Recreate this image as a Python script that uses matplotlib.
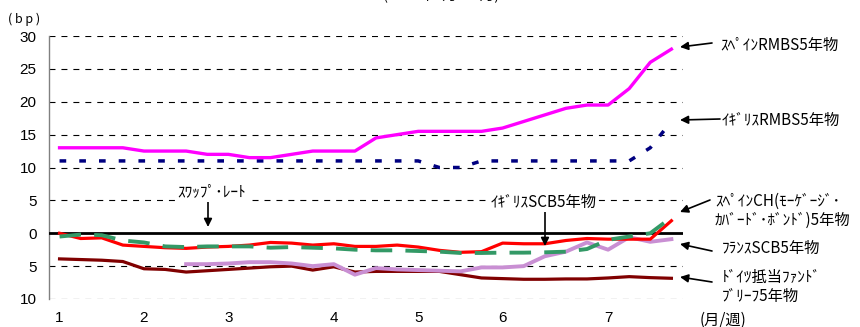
import numpy as np
import matplotlib
matplotlib.use("Agg")
import matplotlib.pyplot as plt

plt.rcParams["font.family"] = ["Noto Sans CJK JP", "DejaVu Sans"]
plt.rcParams["lines.scale_dashes"] = False

W, H = 860, 327
nan = np.nan

# weekly observations, Jan..Jul
weeks = np.arange(30)
month_pos = [0, 4, 8, 13, 17, 21, 26]
month_labels = ["1", "2", "3", "4", "5", "6", "7"]

spain_rmbs = [13, 13, 13, 13, 12.5, 12.5, 12.5, 12, 12, 11.5, 11.5, 12, 12.5, 12.5, 12.5,
              14.5, 15, 15.5, 15.5, 15.5, 15.5, 16, 17, 18, 19, 19.5, 19.5, 22, 26, 28]
uk_rmbs = [11, 11, 11, 11, 11, 11, 11, 11, 11, 11, 11, 11, 11, 11, 11,
           11, 11, 11, 10, 10, 11, 11, 11, 11, 11, 11, 11, 11, 13, 17]
uk_scb = [0, -0.8, -0.7, -1.8, -2.0, -2.2, -2.3, -2.1, -2.0, -1.8, -1.4, -1.5, -1.8, -1.6, -2.0,
          -2.0, -1.8, -2.1, -2.6, -2.9, -2.8, -1.5, -1.6, -1.6, -1.1, -0.8, -0.9, -0.9, -0.9, 1.9]
spain_ch = [-0.5, -0.2, -0.3, -1.1, -1.4, -2.0, -2.1, -2.0, -2.0, -2.0, -2.2, -2.1, -2.2, -2.3, -2.5,
            -2.6, -2.6, -2.7, -2.8, -3.0, -3.0, -2.95, -2.95, -2.9, -2.8, -2.4, -1.0, -0.5, 0, 2.4]
france_scb = [nan, nan, nan, nan, nan, nan, -4.7, -4.7, -4.6, -4.4, -4.4, -4.6, -5.0, -4.7, -6.3,
              -5.3, -5.5, -5.6, -5.7, -5.8, -5.2, -5.2, -5.0, -3.5, -2.8, -1.4, -2.5, -0.6, -1.3, -0.9]
german_pf = [-3.9, -4.0, -4.1, -4.3, -5.4, -5.5, -5.9, -5.7, -5.5, -5.3, -5.1, -5.0, -5.6, -5.1, -5.9,
             -5.8, -5.8, -5.8, -5.8, -6.3, -6.8, -6.9, -7.0, -7.0, -6.95, -6.95, -6.8, -6.6, -6.75, -6.85]

y_ticks = [-10, -5, 0, 5, 10, 15, 20, 25, 30]
y_labels = ["10", "5", "0", "5", "10", "15", "20", "25", "30"]


def fx(x):
    return x / W


def fy(y):
    return 1 - y / H


fig = plt.figure(figsize=(W / 100, H / 100), dpi=100)
ax = fig.add_axes([fx(49), fy(299), fx(683) - fx(49), fy(36) - fy(299)])

# grid lines every 5bp, solid zero line
for v in y_ticks:
    if v == 0:
        ax.axhline(0, color="black", lw=2.0, zorder=3)
    else:
        ax.axhline(v, color="black", lw=0.8, linestyle=(0, (4.3, 4.3)), zorder=1)

ax.plot(weeks, german_pf, color="#800000", lw=2.3, zorder=4)
ax.plot(weeks, france_scb, color="#c98fd3", lw=2.8, zorder=4)
ax.plot(weeks, uk_scb, color="#ff0000", lw=2.3, zorder=5)
ax.plot(weeks, spain_ch, color="#339966", lw=2.8, linestyle=(0, (15.5, 9.5)), zorder=6)
ax.plot(weeks, uk_rmbs, color="#000080", lw=2.5, linestyle=(0, (4.8, 9.4)),
        solid_capstyle="butt", dash_capstyle="butt", zorder=5)
ax.plot(weeks, spain_rmbs, color="#ff00ff", lw=2.4, zorder=5)

ax.set_xlim(-0.5, 29.55)
ax.set_ylim(-10, 30)
ax.set_yticks(y_ticks)
ax.set_yticklabels(y_labels, family=["Liberation Sans", "DejaVu Sans"], fontsize=11)
ax.set_xticks(month_pos)
ax.set_xticklabels(month_labels, family=["Liberation Sans", "DejaVu Sans"], fontsize=11)
ax.tick_params(axis="x", length=0, pad=9)
ax.tick_params(axis="y", length=0, pad=9)
for side in ["top", "right", "bottom"]:
    ax.spines[side].set_visible(False)
ax.spines["left"].set_color("#808080")
ax.spines["left"].set_linewidth(1.0)

# unit labels
fig.text(fx(8), fy(19), "( b p )", fontsize=9, va="center", ha="left")
fig.text(fx(700), fy(320), "(月/週)", fontsize=11, va="center", ha="left")
# chart subtitle, mostly above the visible area as in the source
fig.text(fx(441), fy(2), "(2008年1月～7月)", fontsize=10.5, va="bottom", ha="center")

arrow = dict(arrowstyle="-|>", color="black", lw=1.2, mutation_scale=12,
             shrinkA=0, shrinkB=0)


def side_label(lines, tx, ty, tail, tip):
    fig.text(fx(tx), fy(ty), lines, fontsize=11, va="center", ha="left", linespacing=1.2)
    ax.annotate("", xy=(fx(tip[0]), fy(tip[1])), xytext=(fx(tail[0]), fy(tail[1])),
                xycoords="figure fraction", textcoords="figure fraction",
                arrowprops=arrow, annotation_clip=False)


side_label("ｽﾍﾟｲﾝRMBS5年物", 720, 45, (712, 43), (680, 47))
side_label("ｲｷﾞﾘｽRMBS5年物", 722, 120, (720, 119), (680, 120))
side_label("ｽﾍﾟｲﾝCH(ﾓｰｹﾞｰｼﾞ･\nｶﾊﾞｰﾄﾞ･ﾎﾞﾝﾄﾞ)5年物", 715, 211, (710, 200), (680, 212))
side_label("ﾌﾗﾝｽSCB5年物", 722, 248, (712, 251), (680, 244))
side_label("ﾄﾞｲﾂ抵当ﾌｧﾝﾄﾞ\nﾌﾞﾘｰﾌ5年物", 722, 287, (712, 282), (680, 277))

# in-plot labels with downward arrows
for text, tx, ty, ax_x, y0, y1 in [("ｽﾜｯﾌﾟ･ﾚｰﾄ", 212, 192, 208, 201, 227),
                                    ("ｲｷﾞﾘｽSCB5年物", 544, 202, 545, 211, 246)]:
    fig.text(fx(tx), fy(ty), text, fontsize=11, va="center", ha="center",
             bbox=dict(facecolor="white", edgecolor="none", pad=1), zorder=10)
    ax.annotate("", xy=(fx(ax_x), fy(y1)), xytext=(fx(ax_x), fy(y0)),
                xycoords="figure fraction", textcoords="figure fraction",
                arrowprops=arrow, annotation_clip=False, zorder=10)

fig.savefig("out.png", dpi=100)
